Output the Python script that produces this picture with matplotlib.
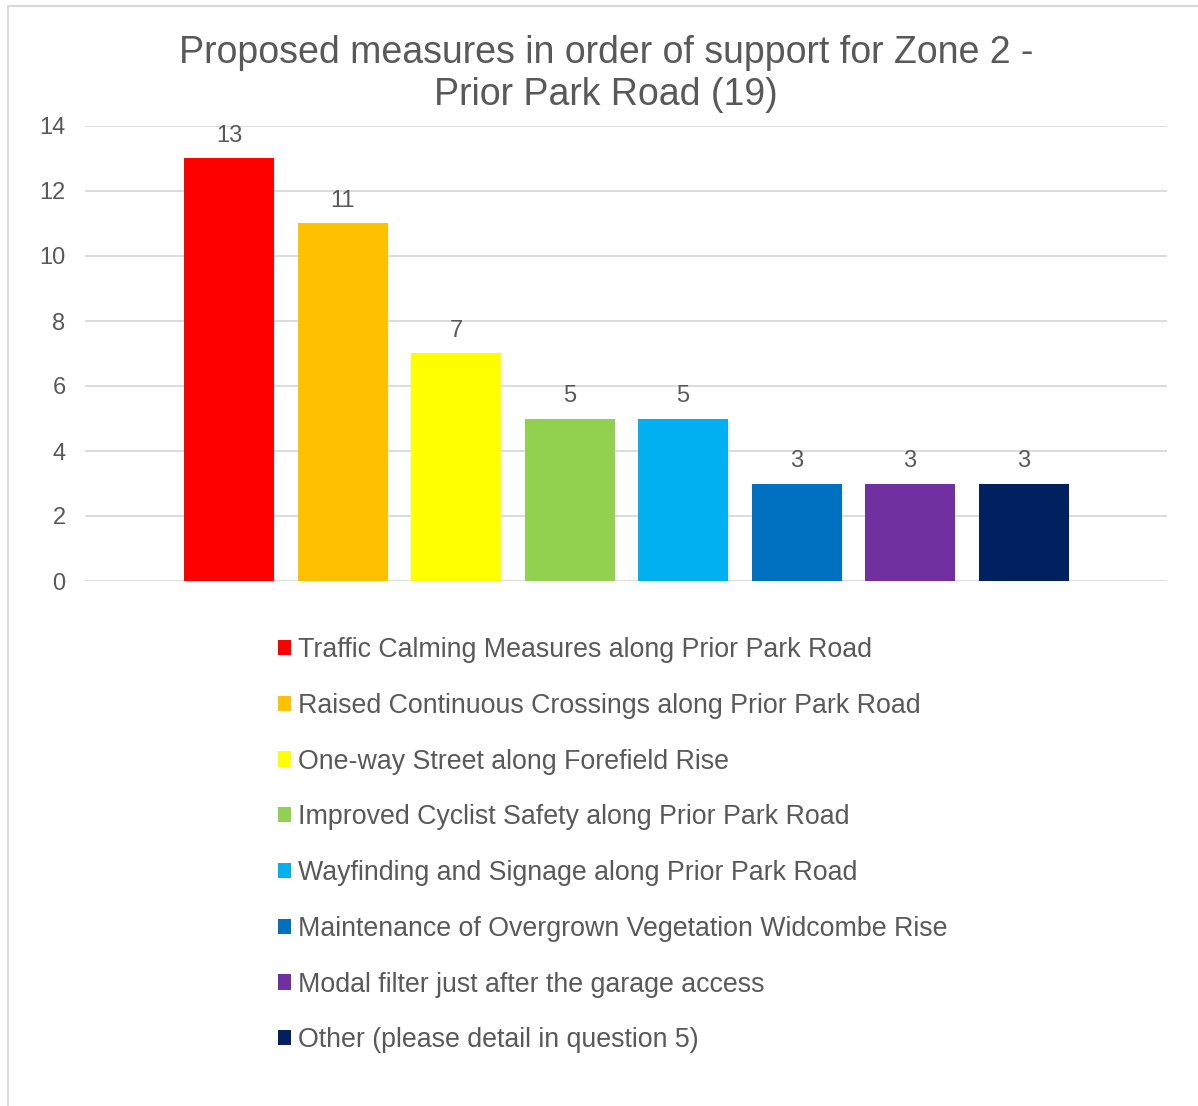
import matplotlib
matplotlib.use("Agg")
import matplotlib.pyplot as plt
from matplotlib.lines import Line2D

plt.rcParams['font.family'] = ['Liberation Sans', 'DejaVu Sans']

measures = ["Traffic Calming Measures along Prior Park Road",
            "Raised Continuous Crossings along Prior Park Road",
            "One-way Street along Forefield Rise",
            "Improved Cyclist Safety along Prior Park Road",
            "Wayfinding and Signage along Prior Park Road",
            "Maintenance of Overgrown Vegetation Widcombe Rise",
            "Modal filter just after the garage access",
            "Other (please detail in question 5)"]
votes = [13, 11, 7, 5, 5, 3, 3, 3]
colours = ["#FF0000", "#FFC000", "#FFFF00", "#92D050",
           "#00B0F0", "#0070C0", "#7030A0", "#002060"]
yticks = [0, 2, 4, 6, 8, 10, 12, 14]

grey = "#595959"

fig = plt.figure(figsize=(11.98, 11.06), dpi=100)
ax = fig.add_axes([85/1198, 1 - 581/1106, (1167-85)/1198, (581-126)/1106])

bars = []
for i, (m, v, c) in enumerate(zip(measures, votes, colours)):
    b = ax.bar(i, v, width=0.793, color=c, label=m, zorder=3)
    bars.append(b)
    ax.bar_label(b, padding=8, fontsize=17, color=grey)

ax.set_xlim(-1.269, 8.264)
ax.set_ylim(0, 14)
ax.set_yticks(yticks)
ax.set_xticks([])
ax.grid(axis='y', color="#D9D9D9", linewidth=1.3, zorder=0)
for s in ax.spines.values():
    s.set_visible(False)
ax.tick_params(axis='y', length=0, pad=14, labelsize=17, labelcolor=grey)

fig.suptitle("Proposed measures in order of support for Zone 2 -\nPrior Park Road (19)",
             x=606/1198, y=1 - 35/1106, va='top', fontsize=27, color=grey,
             linespacing=1.2)

fig.legend(loc='upper left', bbox_to_anchor=(278/1198, 1 - 637/1106),
           frameon=False, fontsize=19.3, labelcolor=grey,
           handlelength=0.49, handleheight=0.49, handletextpad=0.26,
           labelspacing=1.11, borderpad=0, borderaxespad=0)

# chart area border (left and top edges visible)
fig.add_artist(Line2D([8/1198, 8/1198, 1197/1198], [0, 1 - 6/1106, 1 - 6/1106],
                      transform=fig.transFigure, color="#D9D9D9", linewidth=1.5))

fig.savefig("out.png", dpi=100)
